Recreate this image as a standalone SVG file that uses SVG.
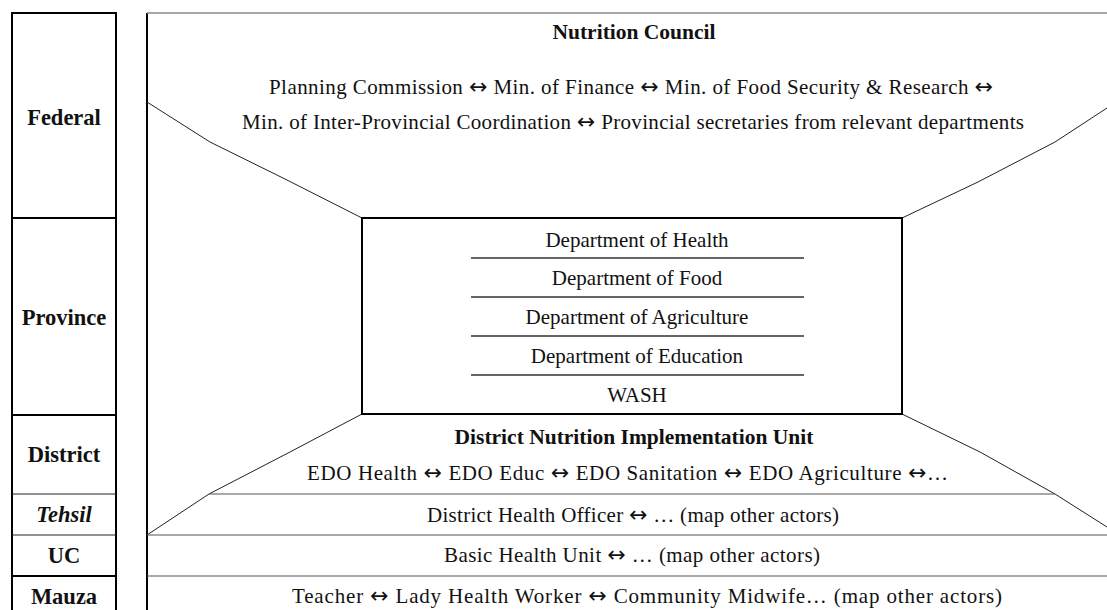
<svg xmlns="http://www.w3.org/2000/svg" width="1107" height="610" viewBox="0 0 1107 610">
<style>
.t{font-family:"Liberation Serif","Times New Roman",serif;font-size:21px;fill:#111;text-anchor:middle}
.b{font-weight:bold;font-size:21.5px}
.ar{font-family:"DejaVu Sans",sans-serif;font-size:22px}
.lv{font-family:"Liberation Serif","Times New Roman",serif;font-size:22.5px;font-weight:bold;fill:#111;text-anchor:middle}
.thick{stroke:#000;stroke-width:2;fill:none}
.thin{stroke:#222;stroke-width:1;fill:none}
.sep{stroke:#555;stroke-width:1.2;fill:none}
.dl{stroke:#333;stroke-width:1.5;fill:none}
</style>
<rect width="1107" height="610" fill="#fff"/>
<g id="levels">
  <rect x="12" y="13" width="104" height="600" class="thick"/>
  <line x1="12" y1="218" x2="116" y2="218" class="thick"/>
  <line x1="12" y1="415" x2="116" y2="415" class="thick"/>
  <line x1="12" y1="494" x2="116" y2="494" class="thin"/>
  <line x1="12" y1="535" x2="116" y2="535" class="thin"/>
  <line x1="12" y1="576" x2="116" y2="576" class="thick"/>
  <text class="lv" x="64" y="125">Federal</text>
  <text class="lv" x="64" y="325">Province</text>
  <text class="lv" x="64" y="462">District</text>
  <text class="lv" x="64" y="522" font-style="italic">Tehsil</text>
  <text class="lv" x="64" y="563">UC</text>
  <text class="lv" x="64" y="604">Mauza</text>
</g>
<g id="frame">
  <line x1="147" y1="13" x2="147" y2="610" class="thick"/>
  <line x1="147" y1="13" x2="1107" y2="13" stroke="#888" stroke-width="1.5"/>
</g>
<g id="connectors">
  <polyline points="147,102 210,142 287,180 362,218" class="thin"/>
  <polyline points="1107,108 1055,142 978,182 902,218" class="thin"/>
  <polyline points="362,414 290,452 209,494 147,535" class="thin"/>
  <polyline points="902,414 980,452 1055,494 1107,527" class="thin"/>
  <line x1="209" y1="494" x2="1055" y2="494" class="sep"/>
  <line x1="147" y1="535" x2="1107" y2="535" class="sep"/>
  <line x1="147" y1="576" x2="1107" y2="576" class="sep"/>
</g>
<g id="federal">
  <text class="t b" x="634" y="39">Nutrition Council</text>
  <text class="t" x="631" y="94" textLength="724" lengthAdjust="spacing">Planning Commission <tspan class="ar">↔</tspan> Min. of Finance <tspan class="ar">↔</tspan> Min. of Food Security &amp; Research <tspan class="ar">↔</tspan></text>
  <text class="t" x="633" y="129" textLength="782" lengthAdjust="spacing">Min. of Inter-Provincial Coordination <tspan class="ar">↔</tspan> Provincial secretaries from relevant departments</text>
</g>
<g id="province">
  <rect x="362" y="218" width="540" height="196" class="thick"/>
  <text class="t" x="637" y="247">Department of Health</text>
  <line x1="471" y1="258" x2="804" y2="258" class="dl"/>
  <text class="t" x="637" y="285">Department of Food</text>
  <line x1="471" y1="297" x2="804" y2="297" class="dl"/>
  <text class="t" x="637" y="324">Department of Agriculture</text>
  <line x1="471" y1="336" x2="804" y2="336" class="dl"/>
  <text class="t" x="637" y="363">Department of Education</text>
  <line x1="471" y1="375" x2="804" y2="375" class="dl"/>
  <text class="t" x="637" y="402">WASH</text>
</g>
<g id="district">
  <text class="t b" x="634" y="444">District Nutrition Implementation Unit</text>
  <text class="t" x="627.5" y="480" textLength="641" lengthAdjust="spacing">EDO Health <tspan class="ar">↔</tspan> EDO Educ <tspan class="ar">↔</tspan> EDO Sanitation <tspan class="ar">↔</tspan> EDO Agriculture <tspan class="ar">↔</tspan>…</text>
</g>
<g id="tehsil">
  <text class="t" x="633" y="522" textLength="412" lengthAdjust="spacing">District Health Officer <tspan class="ar">↔</tspan> … (map other actors)</text>
</g>
<g id="uc">
  <text class="t" x="632" y="562" textLength="376" lengthAdjust="spacing">Basic Health Unit <tspan class="ar">↔</tspan> … (map other actors)</text>
</g>
<g id="mauza">
  <text class="t" x="647" y="603" textLength="710" lengthAdjust="spacing">Teacher <tspan class="ar">↔</tspan> Lady Health Worker <tspan class="ar">↔</tspan> Community Midwife… (map other actors)</text>
</g>
</svg>
